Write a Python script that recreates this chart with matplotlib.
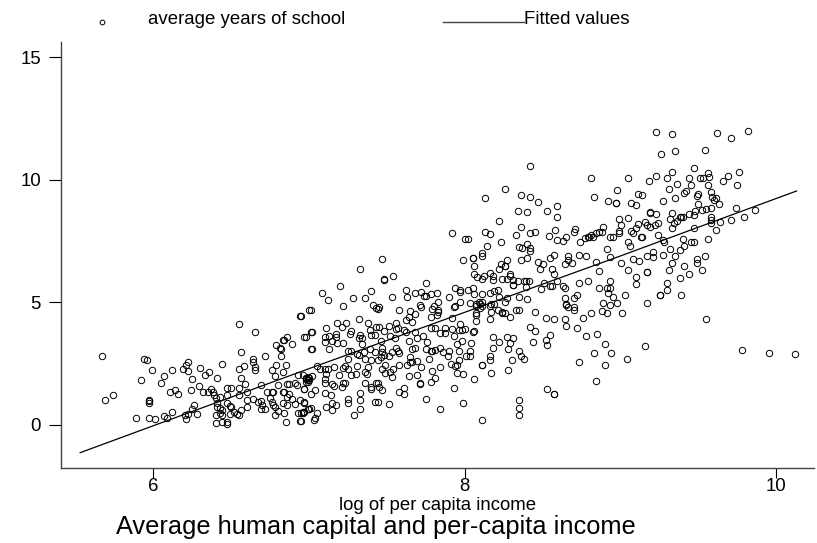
import matplotlib
matplotlib.use('Agg')
import matplotlib.pyplot as plt
from matplotlib.lines import Line2D

# points: (log income, years of school)
low_income = [
    (5.67,2.83),(5.69,1.03),(5.74,1.22),(5.89,0.30),(5.92,1.84),(5.94,2.69),(5.96,2.67),(5.99,2.26),
    (5.97,1.02),(5.97,0.97),(5.97,0.91),(5.97,0.30),(6.01,0.26),(6.05,1.71),(6.07,2.00),(6.07,0.35),
    (6.09,0.30),(6.11,1.33),(6.12,0.53),(6.12,2.26),(6.14,1.41),(6.16,1.25),(6.19,2.29),(6.21,2.45),
    (6.22,2.57),(6.22,2.22),(6.20,0.39),(6.22,0.46),(6.21,0.26),(6.24,1.41),(6.25,1.89),(6.26,0.80),
    (6.25,0.64),(6.28,0.46),(6.29,1.59),(6.30,2.34),(6.32,1.33),(6.33,2.04),(6.36,2.18),(6.37,1.47),
    (6.35,1.33),(6.38,1.33),(6.41,1.93),(6.44,2.50),(6.39,1.22),(6.40,1.09),(6.41,0.91),(6.41,0.75),
    (6.43,0.68),(6.44,0.61),(6.43,0.48),(6.44,0.41),(6.40,0.42),(6.40,0.10),(6.44,0.14),(6.47,0.14),
    (6.47,0.04),(6.43,1.13),(6.47,1.22),(6.47,1.51),(6.50,1.51),(6.47,0.91),(6.49,0.76),(6.50,0.72),
    (6.49,0.46),(6.52,0.52),(6.54,0.45),(6.55,0.42),(6.56,0.60),(6.55,1.21),(6.55,1.52),(6.56,1.93),
    (6.55,2.30),(6.58,2.39),(6.56,2.98),(6.55,4.11),(6.65,3.80),(6.64,2.57),(6.64,2.71),(6.65,2.35),
    (6.65,2.24),(6.59,1.69),(6.60,1.36),(6.60,1.02),(6.60,0.75),(6.64,1.06),(6.67,0.93),(6.69,0.97),
    (6.69,0.64),(6.70,0.82),(6.69,1.62),(6.72,2.83),(6.76,2.26),(6.78,2.00),(6.73,1.33),(6.76,1.35),
    (6.77,1.36),(6.75,1.09),(6.76,0.95),(6.77,0.82),(6.78,0.72),(6.72,0.64),(6.80,0.56),(6.78,0.39),
    (6.84,0.50),(6.85,0.14),(6.80,1.63),(6.79,2.45),(6.79,3.25),(6.81,3.13),(6.82,3.10),(6.82,2.83),
    (6.83,3.47),(6.84,3.48),(6.86,3.58),(6.89,3.29),(6.85,2.46),(6.83,2.18),(6.83,1.33),(6.84,1.36),
    (6.86,1.67),(6.87,1.67),(6.91,1.70),(6.92,1.65),(6.86,1.16),(6.87,1.27),(6.83,0.88),(6.86,0.82),
    (6.89,1.08),(6.91,0.84),(6.94,1.02),(6.93,2.04),(6.97,1.46),(6.97,0.93),(6.93,0.50),(6.96,0.50),
    (6.97,0.53),(6.94,0.18),(6.99,1.84),(6.98,1.90),(6.98,1.76),(7.00,1.84),(6.94,4.46),(7.00,4.69),
    (6.97,3.58),(7.01,3.81),(7.01,3.09),(7.00,0.64),
]

middle_income = [
    (6.95,4.46),(7.01,4.71),(7.08,5.39),(7.12,5.09),(7.20,5.67),(7.22,4.84),(7.28,5.17),(7.36,5.17),
    (7.40,5.47),(7.41,4.88),(7.43,4.76),(7.44,4.73),(7.45,4.80),(7.53,5.21),(7.58,4.71),(7.48,5.92),
    (7.62,5.51),(7.63,5.21),(7.68,5.39),(7.72,5.43),(7.74,5.26),(7.75,5.26),(7.75,5.80),(7.78,5.35),
    (7.82,5.39),(7.83,5.01),(7.65,4.67),(7.68,4.52),(7.71,4.88),(7.72,4.80),(7.80,4.86),(7.79,4.72),
    (7.83,4.69),(7.83,4.60),(7.82,4.50),(7.78,4.42),(7.64,4.42),(7.62,4.30),(7.66,4.19),(7.90,5.21),
    (7.94,5.58),(7.97,5.51),(7.97,5.43),(8.02,5.51),(8.05,5.58),(8.06,5.35),(7.94,4.86),(7.93,4.82),
    (7.97,5.01),(8.03,4.98),(8.07,4.94),(8.09,5.03),(8.10,4.94),(8.11,5.03),(8.10,4.76),(8.07,4.86),
    (8.11,4.86),(8.07,4.56),(8.07,4.49),(8.11,5.35),(8.16,5.39),(8.19,5.47),(8.21,5.51),(8.22,5.24),
    (8.19,4.93),(8.17,4.94),(8.16,4.86),(8.17,4.63),(8.21,4.69),(8.24,4.56),(8.26,4.56),(8.24,4.63),
    (8.27,5.17),(8.26,5.03),(8.29,4.39),(8.31,5.71),(8.33,4.69),(8.35,4.68),(8.35,5.24),(8.40,5.13),
    (8.45,4.60),(8.49,5.54),(8.55,5.67),(8.52,4.38),(8.57,4.34),(8.64,4.34),(8.65,4.04),(8.65,4.90),
    (8.64,5.17),(8.16,4.31),(8.07,4.26),(7.92,4.35),(7.97,4.11),(7.98,3.88),(8.00,3.90),(7.96,3.88),
    (7.32,4.31),(7.24,4.18),(7.18,4.18),(7.21,4.00),(7.11,3.96),(7.02,3.80),(6.98,3.58),(7.02,3.09),
    (7.13,3.09),(7.10,3.61),(7.10,3.39),(7.13,3.65),(7.15,3.43),(7.17,3.70),(7.17,3.61),(7.18,3.36),
    (7.22,3.33),(7.26,3.72),(7.27,3.85),(7.38,4.15),(7.39,3.88),(7.43,3.99),(7.45,3.99),(7.51,4.04),
    (7.56,4.18),(7.48,3.85),(7.56,3.90),(7.57,3.95),(7.61,3.88),(7.62,3.81),(7.68,3.80),(7.33,3.67),
    (7.32,3.54),(7.34,3.54),(7.34,3.29),(7.40,3.67),(7.42,3.67),(7.46,3.43),(7.52,3.63),(7.55,3.54),
    (7.64,3.43),(7.69,3.55),(7.73,3.65),(7.76,3.39),(7.78,3.95),(7.81,3.97),(7.84,3.77),(7.87,3.95),
    (7.87,3.77),(7.92,3.92),(7.93,3.63),(7.95,3.31),(7.98,3.43),(8.04,3.33),(8.05,3.81),(8.06,3.82),
    (8.18,3.58),(8.22,3.39),(8.18,3.16),(8.27,3.58),(8.31,3.55),(8.29,3.35),(8.28,3.09),(8.42,4.01),
    (8.45,3.84),(8.55,3.67),(8.52,3.47),(8.53,3.28),(8.44,3.39),(8.35,3.02),(8.36,2.80),(8.38,2.68),
    (8.30,2.64),(8.28,2.26),(8.16,2.80),(8.16,2.64),(8.17,2.14),(8.11,2.46),(8.11,2.46),(8.03,3.02),
    (8.03,2.82),(8.01,2.80),(7.96,3.02),(7.90,3.02),(7.86,2.98),(7.89,2.83),(7.84,3.13),(7.81,3.06),
    (7.78,3.00),(7.79,3.02),(7.75,3.09),(7.77,2.68),(7.68,3.13),(7.66,3.09),(7.56,3.16),(7.57,3.03),
    (7.58,2.95),(7.53,2.99),(7.51,2.83),(7.48,2.86),(7.47,2.99),(7.47,3.13),(7.42,2.98),(7.39,3.09),
    (7.35,2.98),(7.32,2.86),(7.31,2.89),(7.27,3.01),(7.25,3.02),(7.25,2.68),(7.36,2.68),(7.40,2.65),
    (7.44,2.64),(7.46,2.79),(7.65,2.79),(7.65,2.56),(7.66,2.59),(7.63,2.46),(7.69,2.61),(7.72,2.38),
    (7.58,2.46),(7.54,2.30),(7.49,2.46),(7.47,2.30),(7.49,2.11),(7.52,2.16),(7.53,1.97),(7.38,2.38),
    (7.31,2.40),(7.36,2.18),(7.37,2.07),(7.30,2.10),(7.27,2.02),(7.25,2.27),(7.22,2.34),(7.23,2.41),
    (7.19,2.04),(7.16,2.35),(7.12,2.27),(7.10,2.27),(7.07,2.30),(7.05,2.39),(7.11,2.08),(7.10,1.86),
    (7.10,1.73),(7.15,1.69),(7.16,1.59),(7.23,1.72),(7.22,1.70),(7.21,1.54),(7.02,2.00),(6.99,1.97),
    (6.98,1.87),(6.99,1.77),(6.98,1.91),(7.00,1.91),(6.96,2.04),(7.04,1.43),(7.01,1.28),(6.97,1.46),
    (7.10,1.32),(7.14,1.23),(7.25,1.05),(7.25,0.91),(7.33,1.32),(7.33,1.02),(7.36,1.73),(7.43,1.73),
    (7.44,1.73),(7.40,1.54),(7.40,1.46),(7.45,1.57),(7.47,1.42),(7.42,0.95),(7.44,0.95),(7.51,0.85),
    (7.61,1.50),(7.58,1.34),(7.61,1.25),(7.64,2.00),(7.69,2.02),(7.71,1.69),(7.71,1.73),(7.78,1.77),
    (7.81,1.93),(7.79,2.22),(7.84,2.38),(7.91,2.49),(7.94,2.42),(7.95,2.46),(7.96,2.65),(7.95,2.12),
    (7.99,2.10),(8.06,1.89),(7.93,1.51),(7.75,1.06),(7.84,0.64),(7.99,0.89),(8.11,0.22),(8.35,1.02),
    (8.35,0.71),(8.35,0.42),(8.53,1.47),(8.57,1.27),(7.33,0.64),(7.29,0.39),(7.17,0.80),(7.15,0.89),
    (7.11,0.72),(7.15,0.60),(7.05,0.47),(7.04,0.29),(7.03,0.21),(7.01,0.68),(6.99,0.64),(6.97,0.91),
    (6.96,0.53),(6.95,0.50),(6.95,0.18),
]

upper_middle = [
    (8.42,10.55),(8.26,9.63),(8.13,9.25),(8.36,9.38),(8.42,9.29),(8.47,9.09),(8.59,8.93),(8.34,8.72),
    (8.40,8.68),(8.53,8.72),(8.59,8.48),(8.22,8.32),(8.36,8.06),(8.58,7.97),(7.92,7.85),(8.13,7.88),
    (8.16,7.81),(8.33,7.76),(8.42,7.85),(8.45,7.88),(8.54,7.72),(8.59,7.55),(8.63,7.50),(8.65,7.67),
    (8.00,7.61),(8.02,7.61),(8.23,7.47),(8.14,7.29),(8.35,7.27),(8.37,7.23),(8.40,7.39),(8.42,7.23),
    (8.42,7.09),(7.47,6.76),(7.33,6.38),(7.48,5.96),(7.54,6.10),(7.99,6.72),(8.05,6.82),(8.05,6.82),
    (8.11,7.01),(8.11,6.91),(8.06,6.47),(8.06,6.18),(8.08,6.02),(8.11,5.95),(8.12,6.06),(8.16,6.22),
    (8.18,6.07),(8.18,5.92),(8.22,6.38),(8.23,6.56),(8.26,6.49),(8.26,6.47),(8.27,6.72),(8.24,5.96),
    (8.27,5.96),(8.29,6.16),(8.29,6.06),(8.31,5.92),(8.34,5.89),(8.31,5.72),(8.38,5.87),(8.39,5.87),
    (8.41,5.89),(8.39,5.62),(8.36,6.72),(8.40,6.80),(8.47,6.64),(8.50,6.56),(8.48,6.37),(8.55,6.80),
    (8.57,6.94),(8.56,6.36),(8.57,6.18),(8.64,6.56),(8.66,6.74),(8.66,6.89),(8.51,5.79),(8.59,5.88),
    (8.63,5.69),
]

high_income = [
    (9.23,11.97),(9.33,11.88),(9.62,11.92),(9.71,11.71),(9.82,12.01),(9.26,11.05),(9.35,11.17),(9.54,11.21),
    (9.47,10.50),(8.81,10.10),(9.05,10.06),(9.18,9.96),(9.23,10.18),(9.30,10.10),(9.33,10.34),(9.36,9.85),
    (9.44,10.06),(9.45,9.80),(9.51,10.06),(9.53,10.10),(9.56,10.27),(9.57,10.14),(9.56,9.80),(9.66,9.96),
    (9.69,10.16),(9.76,10.34),(9.75,9.81),(8.98,9.57),(8.83,9.29),(8.92,9.14),(8.97,9.05),(8.97,9.05),
    (9.07,9.05),(9.10,8.97),(9.11,9.43),(9.14,9.39),(9.31,9.63),(9.27,9.14),(9.35,9.25),(9.41,9.46),
    (9.42,9.53),(9.49,9.35),(9.50,9.43),(9.58,9.51),(9.59,9.29),(9.61,9.25),(9.60,9.19),(9.63,9.01),
    (9.50,9.01),(9.58,8.87),(9.55,8.80),(9.52,8.76),(9.48,8.75),(9.47,8.57),(9.44,8.60),(9.40,8.50),
    (9.39,8.50),(9.38,8.47),(9.36,8.33),(9.34,8.23),(9.33,8.03),(9.33,8.64),(9.32,8.42),(9.19,8.71),
    (9.19,8.67),(9.23,8.60),(9.16,8.27),(9.17,8.17),(9.19,8.06),(9.22,8.17),(9.24,8.23),(9.11,8.19),
    (9.10,8.03),(9.07,7.93),(9.08,7.85),(8.99,8.42),(9.05,8.44),(9.00,8.17),(8.99,7.92),(8.99,7.85),
    (9.13,7.66),(9.14,7.69),(8.95,7.67),(8.93,7.67),(8.89,8.10),(8.88,7.89),(8.86,7.89),(8.84,7.85),
    (8.81,7.76),(8.80,7.66),(8.82,7.66),(8.79,7.69),(8.77,7.62),(8.74,7.47),(8.71,8.00),(8.70,7.89),
    (9.24,7.76),(9.27,7.55),(9.28,7.46),(9.40,7.61),(9.45,7.47),(9.47,7.47),(9.47,8.02),(9.58,8.48),
    (9.58,8.37),(9.58,8.23),(9.61,7.96),(9.64,8.30),(9.71,8.36),(9.74,8.87),(9.79,8.48),(9.86,8.76),
    (9.56,7.61),(9.05,7.46),(9.06,7.31),(8.91,7.19),(8.93,6.86),(8.73,6.94),(8.78,6.89),(8.84,6.64),
    (8.69,6.60),(9.00,6.60),(9.08,6.76),(9.12,6.68),(9.05,6.31),(8.86,6.27),(9.17,6.90),(9.21,7.05),
    (9.21,6.85),(9.27,6.94),(9.32,7.19),(9.35,6.89),(9.33,6.63),(9.38,7.13),(9.41,7.31),(9.49,6.79),
    (9.49,6.63),(9.54,6.89),(9.52,6.34),(9.41,6.47),(9.44,6.18),(9.38,6.00),(9.31,6.34),(9.17,6.26),
    (9.17,6.23),(9.10,6.02),(9.10,5.77),(9.30,5.80),(9.30,5.50),(9.25,5.32),(9.25,5.32),(9.39,5.30),
    (9.03,5.30),(8.93,5.88),(8.91,5.58),(8.93,5.58),(8.92,5.40),(8.95,5.21),(8.86,5.58),(8.73,5.80),
    (8.79,5.88),(8.64,5.58),(8.56,5.69),(8.72,5.31),(8.70,5.17),(8.70,4.80),(8.89,4.98),(8.93,4.89),
    (8.98,4.98),(9.17,4.98),
]

# lower right part of the cloud and the outliers
high_income_low_school = [
    (9.55,4.34),(9.78,3.05),(9.95,2.92),(10.12,2.89),(9.16,3.21),(9.04,2.71),(8.90,3.29),(8.94,2.93),
    (8.83,2.93),(8.90,2.46),(8.85,3.71),(8.78,3.65),(8.72,3.96),(8.73,2.56),(8.84,1.80),(8.57,1.25),
    (8.76,4.38),(8.81,4.56),(8.88,4.67),(8.91,4.59),(9.01,4.56),(8.70,4.69),(8.66,4.80),(8.65,4.94),
]

fit_x = [5.53, 6, 7, 8, 9, 10.13]
fit_y = [-1.13, -0.03, 2.30, 4.60, 6.90, 9.55]

x_ticks = [6, 8, 10]
y_ticks = [0, 5, 10, 15]

plt.rcParams['font.family'] = ['Liberation Sans', 'DejaVu Sans']

W, H = 817, 543
fig = plt.figure(figsize=(W / 100, H / 100), dpi=100)
ax = fig.add_axes([61 / W, (H - 467.5) / H, (814 - 61) / W, (467.5 - 42) / H])

points = low_income + middle_income + upper_middle + high_income + high_income_low_school
xs = [p[0] for p in points]
ys = [p[1] for p in points]

ax.plot(xs, ys, 'o', mfc='none', mec='black', ms=4.6, mew=0.7, zorder=2)
ax.plot(fit_x, fit_y, color='black', lw=0.9, zorder=3)

ax.set_xlim(5.407, 10.242)
ax.set_ylim(-1.735, 15.63)
ax.set_xticks(x_ticks)
ax.set_yticks(y_ticks)
ax.tick_params(axis='x', length=7.2, width=0.8, labelsize=13.4, pad=0.5)
ax.tick_params(axis='y', length=8.4, width=0.8, labelsize=13.4, pad=6)
for s in ['top', 'right']:
    ax.spines[s].set_visible(False)
for s in ['left', 'bottom']:
    ax.spines[s].set_color('#444444')
    ax.spines[s].set_linewidth(1.0)

# legend and titles sit at fixed spots
fig.text(339 / W, 1 - 505 / H, 'log of per capita income', fontsize=13.4, va='center')
fig.text(116 / W, 1 - 527 / H, 'Average human capital and per-capita income', fontsize=18.3, va='center')
fig.text(148 / W, 1 - 20 / H, 'average years of school', fontsize=13.4, va='center')
fig.text(524 / W, 1 - 20 / H, 'Fitted values', fontsize=13.4, va='center')
fig.add_artist(Line2D([102 / W], [1 - 22 / H], marker='o', mfc='none', mec='black', ms=3.4, mew=0.7, ls='none'))
fig.add_artist(Line2D([443 / W, 524 / W], [1 - 22 / H, 1 - 22 / H], color='#444444', lw=1.0))

fig.savefig('out.png', dpi=100)
